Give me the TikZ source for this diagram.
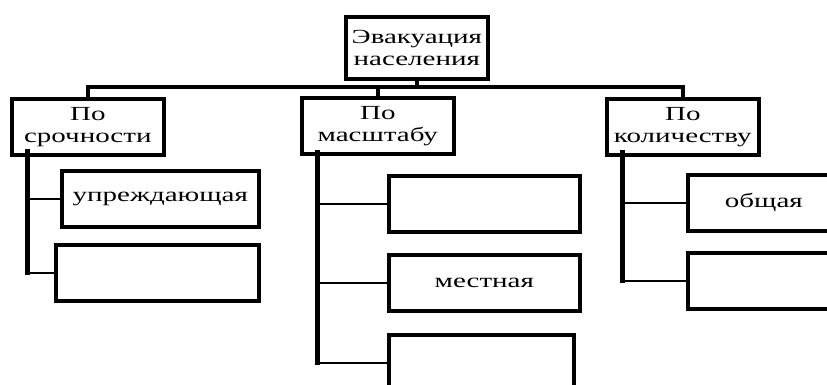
\documentclass[tikz,border=0pt]{standalone}
\usepackage{fontspec}
\setmainfont{Liberation Serif}[FakeStretch=1.45]
\begin{document}
\begin{tikzpicture}[x=1pt, y=-1pt,
    box/.style={draw, line width=3.6pt, anchor=north west, inner sep=0pt,
      align=center, minimum width=152pt, minimum height=56pt,
      font=\fontsize{20}{22}\selectfont},
    bus/.style={line width=4pt},
    spine/.style={line width=5pt, line cap=rect},
    branch/.style={line width=2.6pt}]

    \useasboundingbox (0,0) rectangle (827,385); % picture frame
    \clip (0,0) rectangle (827,385);

    % top box
    \node[box, minimum width=142pt, minimum height=62pt] (eva) at (344,15)
      {Эвакуация\\населения};

    % three groups
    \node[box] (urg) at (10,97) {По\\срочности};
    \node[box] (scl) at (300,96) {По\\масштабу};
    \node[box] (qty) at (605,97) {По\\количеству};

    % leaves
    \node[box, minimum width=197pt] (urgA) at (60,169) {упреждающая};
    \node[box, minimum width=203pt] (urgB) at (54,243) {};
    \node[box, minimum width=191pt] (sclA) at (387,174) {};
    \node[box, minimum width=191pt] (sclB) at (387,253) {местная};
    \node[box, minimum width=185pt] (sclC) at (387,333) {};
    \node[box] (qtyA) at (686,173) {общая};
    \node[box] (qtyB) at (686,251) {};

    % bus under the top box
    \coordinate (bus) at (0,87);
    \draw[bus] (urg.north) |- (bus -| qty.north) -- (qty.north);
    \draw[bus] (eva.south) -- (eva.south |- bus);
    \draw[bus] (scl.north) -- (scl.north |- bus);

    % spines
    \coordinate (su) at (27,152);
    \coordinate (ss) at (317,153);
    \coordinate (sq) at (622,153);
    \draw[spine] (su) -- (su |- urgB.west);
    \draw[spine] (ss) -- (ss |- sclC.west);
    \draw[spine] (sq) -- (sq |- qtyB.west);

    % branches
    \draw[branch] (su |- urgA.west) -- (urgA.west);
    \draw[branch] (su |- urgB.west) -- (urgB.west);
    \draw[branch] (ss |- sclA.west) -- (sclA.west);
    \draw[branch] (ss |- sclB.west) -- (sclB.west);
    \draw[branch] (ss |- sclC.west) -- (sclC.west);
    \draw[branch] (sq |- qtyA.west) -- (qtyA.west);
    \draw[branch] (sq |- qtyB.west) -- (qtyB.west);

\end{tikzpicture}
\end{document}
